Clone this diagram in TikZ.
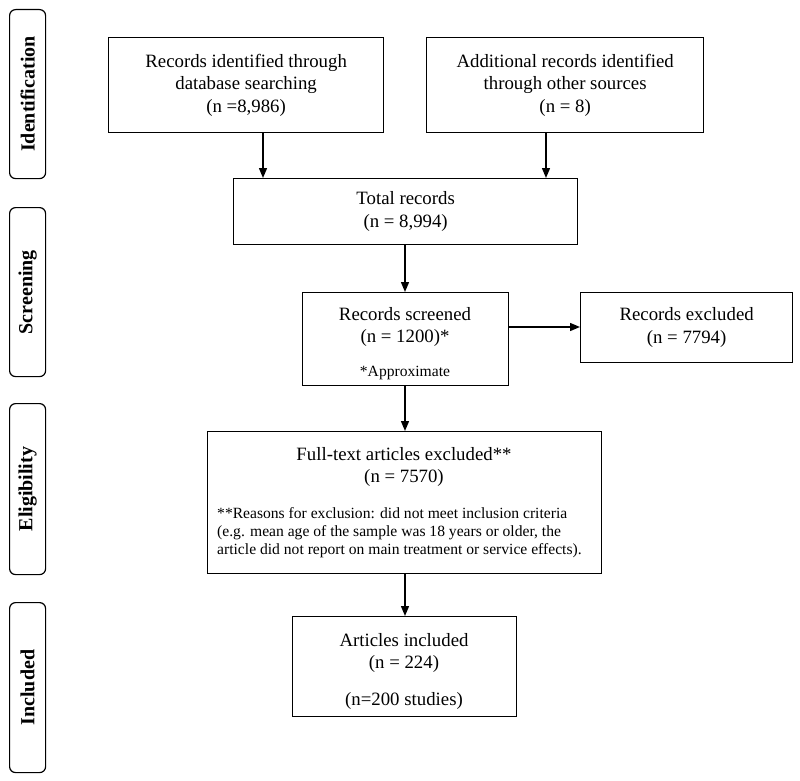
\documentclass[tikz,border=0pt]{standalone}
\usepackage{fontspec}
\setmainfont{Liberation Serif}
\usetikzlibrary{arrows.meta}
\newcommand\mainsz{\fontsize{18.8}{22.5}\selectfont}
\newcommand\smallsz{\fontsize{15.6}{18}\selectfont}
\newcommand\sidesz{\fontsize{20}{23}\selectfont\bfseries}
\begin{document}
\begin{tikzpicture}[x=1pt,y=-1pt,
  box/.style={draw, line width=1.3pt, inner sep=0pt, anchor=north west, align=center, font=\mainsz},
  side/.style={draw, line width=1.2pt, rounded corners=6pt, inner sep=0pt, anchor=north west, minimum width=36pt},
  sidetext/.style={rotate=90, font=\sidesz},
  txt/.style={inner sep=0pt, align=center, font=\mainsz},
  stxt/.style={inner sep=0pt, align=left, font=\smallsz},
  arr/.style={line width=1.4pt, -{Triangle[length=10pt,width=8pt]}}
]
\useasboundingbox (0,0) rectangle (800,781);

% side labels
\node[side, minimum height=169pt] (sid) at (9,9) {};
\node[sidetext] (sidt) at (sid.center) {Identification};
\node[side, minimum height=169pt] (sscr) at (9,207) {};
\node[sidetext] (sscrt) at (sscr.center) {Screening};
\node[side, minimum height=171pt] (selig) at (9,403) {};
\node[sidetext] (seligt) at (selig.center) {Eligibility};
\node[side, minimum height=170pt] (sinc) at (9,602) {};
\node[sidetext] (sinct) at (sinc.center) {Included};

% boxes
\node[box, minimum width=275pt, minimum height=95pt] (id1) at (108,37)
  {Records identified through\\database searching\\(n =8,986)};
\node[box, minimum width=277pt, minimum height=95pt] (id2) at (426,37)
  {Additional records identified\\through other sources\\(n = 8)};
\node[box, minimum width=344pt, minimum height=66pt] (total) at (233,178)
  {Total records\\(n = 8,994)};
\node[box, minimum width=206pt, minimum height=93pt] (scr) at (302,292) {};
\node[txt] (scrt) at (405,327) {Records screened\\(n = 1200)*};
\node[txt, font=\smallsz] (scra) at (405,373) {*Approximate};
\node[box, minimum width=212pt, minimum height=70pt] (excl) at (580,292)
  {Records excluded\\(n = 7794)};
\node[box, minimum width=394pt, minimum height=142pt] (full) at (207,431) {};
\node[txt] (fullt) at (404,467) {Full-text articles excluded**\\(n = 7570)};
\node[stxt, anchor=west] (fullr) at (217,533) {**Reasons for exclusion: did not meet inclusion criteria\\(e.g. mean age of the sample was 18 years or older, the\\article did not report on main treatment or service effects).};
\node[box, minimum width=224pt, minimum height=100pt] (inc) at (292,616) {};
\node[txt] (inct) at (404,653) {Articles included\\(n = 224)};
\node[txt] (incs) at (404,701) {(n=200 studies)};

% connectors
\coordinate (a1) at (263,0);
\coordinate (a2) at (546,0);
\coordinate (a3) at (405,0);
\draw[arr] (id1.south -| a1) -- (total.north -| a1);
\draw[arr] (id2.south -| a2) -- (total.north -| a2);
\draw[arr] (total.south -| a3) -- (scr.north -| a3);
\draw[arr] (scr.east |- scrt) -- (excl.west |- scrt);
\draw[arr] (scr.south -| a3) -- (full.north -| a3);
\draw[arr] (full.south -| a3) -- (inc.north -| a3);
\end{tikzpicture}
\end{document}
